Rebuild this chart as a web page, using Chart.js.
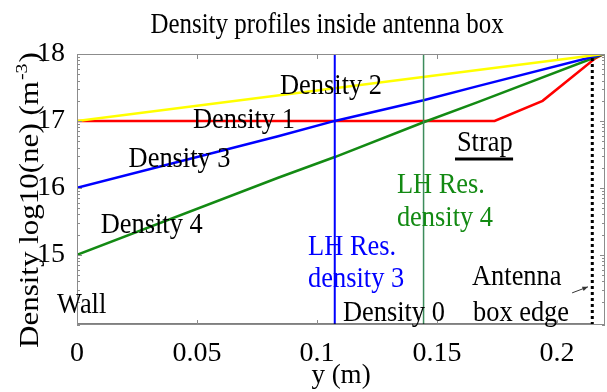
<!DOCTYPE html>
<html>
<head>
<meta charset="utf-8">
<title>Density profiles inside antenna box</title>
<script src="https://cdn.jsdelivr.net/npm/chart.js@4.4.0/dist/chart.umd.min.js"></script>
<style>
    html, body { margin: 0; padding: 0; background: #ffffff; }
    #wrap { width: 607px; height: 392px; }
</style>
</head>
<body>
<div id="wrap"><canvas id="densityChart" width="607" height="392"></canvas></div>
<script>
// Data (y in m, density as log10(ne))
var yMin = 13.95;
var yMax = 18;
var xMax = 0.22;

var density1X = [0, 0.174, 0.194, 0.2157, 0.2195];
var density1Y = [17, 17, 17.30, 17.93, 18];

var density2X = [0, 0.2195];
var density2Y = [17, 18];

var density3X = [0, 0.0838, 0.1074, 0.1444, 0.167, 0.2195];
var density3Y = [16, 16.77, 17, 17.31, 17.52, 18];

var density4X = [0, 0.0838, 0.1074, 0.1444, 0.167, 0.2195];
var density4Y = [15, 16.15, 16.46, 16.98, 17.28, 18];

// Density 0 sits on the bottom of the axis (log10(0))
var density0X = [0, 0.2147];
var density0Y = [yMin, yMin];

// vertical markers
var lhRes3X = 0.1074;
var lhRes4X = 0.1444;
var boxEdgeX = 0.2147;

// tick labels
var xTicks = [0, 0.05, 0.1, 0.15, 0.2];
var yTicks = [15, 16, 17, 18];

var chartTitle = 'Density profiles inside antenna box';

function toPoints(xs, ys) {
    var pts = [];
    for (var i = 0; i < xs.length; i++) {
        pts.push({ x: xs[i], y: ys[i] });
    }
    return pts;
}

function vertical(x) {
    return [{ x: x, y: yMin }, { x: x, y: yMax }];
}

// log10 minor ticks inside each decade, like the original axis
function minorYTicks() {
    var out = [];
    for (var d = 13; d < 18; d++) {
        for (var k = 2; k <= 9; k++) {
            var v = d + Math.log10(k);
            if (v > yMin && v < yMax) out.push(v);
        }
    }
    return out;
}

var serif = '"Liberation Serif", "Times New Roman", serif';

// text notes placed in data coordinates
var notes = [
    { text: 'Density 2', x: 0.0846, y: 17.52, color: '#000000' },
    { text: 'Density 1', x: 0.0483, y: 17.01, color: '#000000' },
    { text: 'Density 3', x: 0.0215, y: 16.43, color: '#000000' },
    { text: 'Density 4', x: 0.0099, y: 15.44, color: '#000000' },
    { text: 'Wall', x: -0.0083, y: 14.25, color: '#000000' },
    { text: 'Density 0', x: 0.1108, y: 14.13, color: '#000000' },
    { text: 'LH Res.', x: 0.0963, y: 15.12, color: '#0000ff' },
    { text: 'density 3', x: 0.0963, y: 14.64, color: '#0000ff' },
    { text: 'LH Res.', x: 0.1333, y: 16.04, color: '#138a13' },
    { text: 'density 4', x: 0.1333, y: 15.55, color: '#138a13' },
    { text: 'Strap', x: 0.1583, y: 16.67, color: '#000000' },
    { text: 'Antenna', x: 0.1646, y: 14.67, color: '#000000' },
    { text: 'box edge', x: 0.165, y: 14.13, color: '#000000' }
];

// the source figure is squeezed sideways, so text is drawn narrow
function narrowText(ctx, text, x, y, squeeze) {
    ctx.save();
    ctx.translate(x, y);
    ctx.scale(squeeze, 1);
    ctx.fillText(text, 0, 0);
    ctx.restore();
}

var decorPlugin = {
    id: 'decor',
    afterDatasetsDraw: function(chart) {
        var ctx = chart.ctx;
        var xs = chart.scales.x;
        var ys = chart.scales.y;
        var area = chart.chartArea;

        ctx.save();

        // box around plot
        ctx.strokeStyle = '#8c8c8c';
        ctx.lineWidth = 1;
        ctx.strokeRect(area.left + 0.5, area.top + 0.5, area.right - area.left - 1, area.bottom - area.top - 1);

        // inward ticks
        ctx.beginPath();
        xTicks.forEach(function(v) {
            var px = Math.round(xs.getPixelForValue(v)) + 0.5;
            ctx.moveTo(px, area.bottom);
            ctx.lineTo(px, area.bottom - 5);
            ctx.moveTo(px, area.top);
            ctx.lineTo(px, area.top + 5);
        });
        yTicks.forEach(function(v) {
            var py = Math.round(ys.getPixelForValue(v)) + 0.5;
            ctx.moveTo(area.left, py);
            ctx.lineTo(area.left + 5, py);
            ctx.moveTo(area.right, py);
            ctx.lineTo(area.right - 5, py);
        });
        minorYTicks().forEach(function(v) {
            var py = Math.round(ys.getPixelForValue(v)) + 0.5;
            ctx.moveTo(area.left, py);
            ctx.lineTo(area.left + 3, py);
            ctx.moveTo(area.right, py);
            ctx.lineTo(area.right - 3, py);
        });
        ctx.stroke();

        // title
        ctx.fillStyle = '#000000';
        ctx.font = '29px ' + serif;
        ctx.textAlign = 'center';
        ctx.textBaseline = 'alphabetic';
        narrowText(ctx, chartTitle, 327, 33, 0.86);

        // y axis title, rotated, with superscript
        ctx.save();
        ctx.translate(38, 348);
        ctx.scale(0.88, 1);
        ctx.rotate(-Math.PI / 2);
        ctx.textAlign = 'left';
        ctx.textBaseline = 'alphabetic';
        ctx.font = '31px ' + serif;
        var main = 'Density log10(ne) (m';
        ctx.fillText(main, 0, 0);
        var w = ctx.measureText(main).width;
        ctx.font = '20px ' + serif;
        ctx.fillText('-3', w + 1, -13);
        var w2 = ctx.measureText('-3').width;
        ctx.font = '31px ' + serif;
        ctx.fillText(')', w + w2 + 2, 0);
        ctx.restore();

        // text notes
        ctx.font = '30px ' + serif;
        ctx.textAlign = 'left';
        ctx.textBaseline = 'middle';
        notes.forEach(function(n) {
            ctx.fillStyle = n.color;
            narrowText(ctx, n.text, xs.getPixelForValue(n.x), ys.getPixelForValue(n.y), 0.88);
        });

        // Strap underline
        ctx.strokeStyle = '#000000';
        ctx.lineWidth = 3;
        ctx.beginPath();
        ctx.moveTo(xs.getPixelForValue(0.1575), ys.getPixelForValue(16.43));
        ctx.lineTo(xs.getPixelForValue(0.1817), ys.getPixelForValue(16.43));
        ctx.stroke();

        // small arrow to the box edge
        var ax0 = xs.getPixelForValue(0.2063), ay0 = ys.getPixelForValue(14.43);
        var ax1 = xs.getPixelForValue(0.2129), ay1 = ys.getPixelForValue(14.52);
        ctx.strokeStyle = '#333333';
        ctx.lineWidth = 1;
        ctx.beginPath();
        ctx.moveTo(ax0, ay0);
        ctx.lineTo(ax1, ay1);
        ctx.stroke();
        var ang = Math.atan2(ay1 - ay0, ax1 - ax0);
        ctx.fillStyle = '#333333';
        ctx.beginPath();
        ctx.moveTo(ax1, ay1);
        ctx.lineTo(ax1 - 6 * Math.cos(ang - 0.4), ay1 - 6 * Math.sin(ang - 0.4));
        ctx.lineTo(ax1 - 6 * Math.cos(ang + 0.4), ay1 - 6 * Math.sin(ang + 0.4));
        ctx.closePath();
        ctx.fill();

        ctx.restore();
    }
};

function lineSet(label, data, color, width, dash) {
    return {
        label: label,
        data: data,
        borderColor: color,
        backgroundColor: color,
        borderWidth: width,
        borderDash: dash || [],
        pointRadius: 0,
        tension: 0,
        fill: false
    };
}

var ctx = document.getElementById('densityChart');

new Chart(ctx, {
    type: 'line',
    data: {
        datasets: [
            lineSet('Density 0', toPoints(density0X, density0Y), '#000000', 3),
            lineSet('Antenna box edge', vertical(boxEdgeX), '#000000', 3, [3, 3]),
            lineSet('LH Res. density 3', vertical(lhRes3X), '#0000ff', 2),
            lineSet('LH Res. density 4', vertical(lhRes4X), '#3c8c5c', 1.5),
            lineSet('Density 2', toPoints(density2X, density2Y), '#ffff00', 2.5),
            lineSet('Density 3', toPoints(density3X, density3Y), '#0000ff', 2.5),
            lineSet('Density 4', toPoints(density4X, density4Y), '#138a13', 2.5),
            lineSet('Density 1', toPoints(density1X, density1Y), '#ff0000', 2.5)
        ]
    },
    options: {
        responsive: false,
        animation: false,
        devicePixelRatio: 1,
        layout: { padding: { left: 0, right: 2, top: 54, bottom: 0 } },
        plugins: {
            legend: { display: false },
            tooltip: { enabled: false },
            title: { display: false }
        },
        scales: {
            x: {
                type: 'linear',
                min: 0,
                max: xMax,
                grid: { display: false },
                border: { display: false },
                afterBuildTicks: function(scale) {
                    scale.ticks = xTicks.map(function(v) { return { value: v }; });
                },
                afterFit: function(scale) { scale.height = 67; },
                ticks: {
                    color: '#000000',
                    padding: 4,
                    maxRotation: 0,
                    font: { family: serif, size: 28 },
                    callback: function(v) { return String(v); }
                },
                title: {
                    display: true,
                    text: 'y (m)',
                    color: '#000000',
                    padding: { top: 0, bottom: 0 },
                    font: { family: serif, size: 27 }
                }
            },
            y: {
                type: 'linear',
                min: yMin,
                max: yMax,
                grid: { display: false },
                border: { display: false },
                afterBuildTicks: function(scale) {
                    scale.ticks = yTicks.map(function(v) { return { value: v }; });
                },
                afterFit: function(scale) { scale.width = 77; },
                ticks: {
                    color: '#000000',
                    padding: 4,
                    font: { family: serif, size: 28 },
                    callback: function(v) { return String(v); }
                },
                title: { display: false }
            }
        }
    },
    plugins: [decorPlugin]
});
</script>
</body>
</html>
